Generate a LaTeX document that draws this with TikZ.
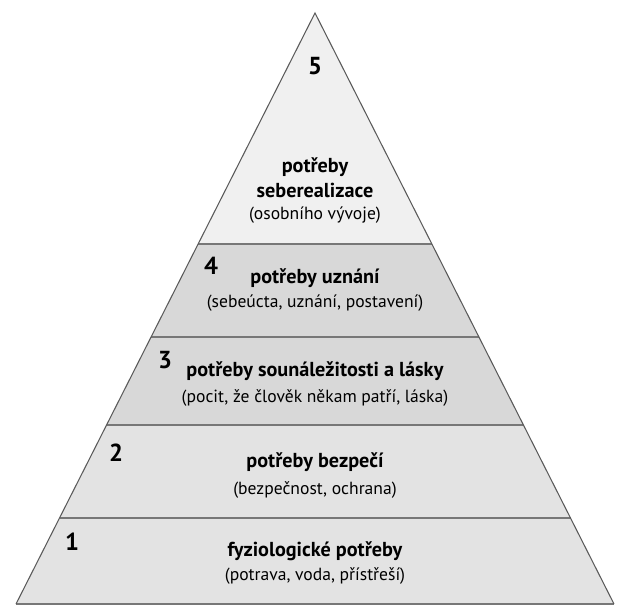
\documentclass[tikz,border=0pt]{standalone}
\usepackage{fontspec}
\setmainfont{PT Sans}
\usetikzlibrary{calc}
\definecolor{edge}{HTML}{5A5A5A}
\definecolor{sep}{HTML}{777777}
\definecolor{toplvl}{HTML}{F0F0F0}
\definecolor{midlvl}{HTML}{D8D8D8}
\definecolor{lowlvl}{HTML}{E3E3E3}

\begin{document}
\begin{tikzpicture}[x=0.2mm,y=-0.2mm,
  num/.style={font=\bfseries\fontsize{14}{16}\selectfont,inner sep=0pt},
  ttl/.style={font=\bfseries\fontsize{11.5}{14}\selectfont,inner sep=0pt,align=center},
  subt/.style={font=\fontsize{10}{12}\selectfont,inner sep=0pt},
  sepline/.style={draw=sep,line width=1.2pt},
  side/.style={draw=edge,line width=0.6pt}]

\useasboundingbox (0,0) rectangle (629,608);

\coordinate (apex) at (315,13);
\coordinate (bl) at (16,604);
\coordinate (br) at (614,604);
% level borders along the two sides
\coordinate (l4) at ($(apex)!0.3909!(bl)$);  \coordinate (r4) at ($(apex)!0.3909!(br)$);
\coordinate (l3) at ($(apex)!0.5482!(bl)$);  \coordinate (r3) at ($(apex)!0.5482!(br)$);
\coordinate (l2) at ($(apex)!0.6971!(bl)$);  \coordinate (r2) at ($(apex)!0.6971!(br)$);
\coordinate (l1) at ($(apex)!0.8545!(bl)$);  \coordinate (r1) at ($(apex)!0.8545!(br)$);

\fill[toplvl] (apex) -- (r4) -- (l4) -- cycle;
\fill[midlvl] (l4) -- (r4) -- (r3) -- (l3) -- cycle;
\fill[midlvl] (l3) -- (r3) -- (r2) -- (l2) -- cycle;
\fill[lowlvl] (l2) -- (r2) -- (r1) -- (l1) -- cycle;
\fill[lowlvl] (l1) -- (r1) -- (br) -- (bl) -- cycle;

\draw[sepline] (l4) -- (r4);
\draw[sepline] (l3) -- (r3);
\draw[sepline] (l2) -- (r2);
\draw[sepline] (l1) -- (r1);
\draw[sepline] (bl) -- (br);
\draw[side] (bl) -- (apex) -- (br);

\node[num] (n5) at (315,66) {5};
\node[ttl] (t5) at (315,178) {potřeby\\seberealizace};
\node[subt] (s5) at (315,215) {(osobního vývoje)};

\node[num] (n4) at (211,266) {4};
\node[ttl] (t4) at (315,278) {potřeby uznání};
\node[subt] (s4) at (315,303) {(sebeúcta, uznání, postavení)};

\node[num] (n3) at (165,360) {3};
\node[ttl] (t3) at (315,371) {potřeby sounáležitosti a lásky};
\node[subt] (s3) at (315,398) {(pocit, že člověk někam patří, láska)};

\node[num] (n2) at (116,453) {2};
\node[ttl] (t2) at (315,462) {potřeby bezpečí};
\node[subt] (s2) at (315,490) {(bezpečnost, ochrana)};

\node[num] (n1) at (72,542) {1};
\node[ttl] (t1) at (315,551) {fyziologické potřeby};
\node[subt] (s1) at (315,576) {(potrava, voda, přístřeší)};
\end{tikzpicture}
\end{document}
